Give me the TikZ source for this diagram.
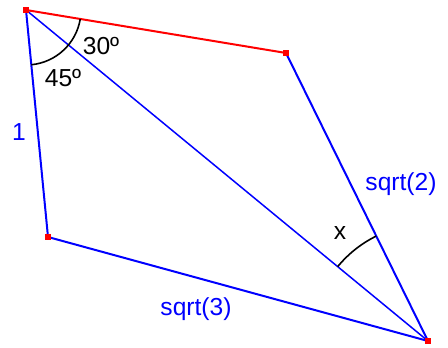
\documentclass[tikz,border=0pt]{standalone}
\usepackage{fontspec}
\setmainfont{Liberation Sans}
\usepackage{tikz}
\usetikzlibrary{angles,calc}

\begin{document}
\begin{tikzpicture}[
  x=0.5pt, y=-0.5pt,
  side/.style={blue,line width=1pt},
  redside/.style={red,line width=1pt},
  diag/.style={blue,line width=0.75pt},
  vtx/.style={rectangle,fill=red,inner sep=0pt,minimum size=2.6pt},
  ang/.style={draw,black,line width=0.8pt},
  lbl/.style={font=\fontsize{12.3}{14}\selectfont,inner sep=0pt},
  len/.style={lbl,blue}
]
\useasboundingbox (0,0) rectangle (448,347);
% vertices
\coordinate (a) at (26,10);
\coordinate (b) at (286,53);
\coordinate (c) at (48,237);
\coordinate (d) at (428,341);
% sides
\draw[redside] (a) -- (b);
\draw[side] (b) -- (d);
\draw[side] (a) -- (c);
\draw[side] (c) -- (d);
\draw[diag] (a) -- (d);
% angles
\pic[ang,angle radius=27.5pt] {angle=c--a--b};
\pic[ang,angle radius=58.5pt] {angle=b--d--a};
\node[lbl] (t30) at (101,46) {30º};
\node[lbl] (t45) at (63,78) {45º};
\node[lbl] (tx) at (340,233) {x};
% lengths
\node[len] (l1) at (19,132) {1};
\node[len] (l2) at (401,184) {sqrt(2)};
\node[len] (l3) at (196,309) {sqrt(3)};
% corner marks
\node[vtx] (ma) at (a) {};
\node[vtx] (mb) at (b) {};
\node[vtx] (mc) at (c) {};
\node[vtx] (md) at (d) {};
\end{tikzpicture}
\end{document}
